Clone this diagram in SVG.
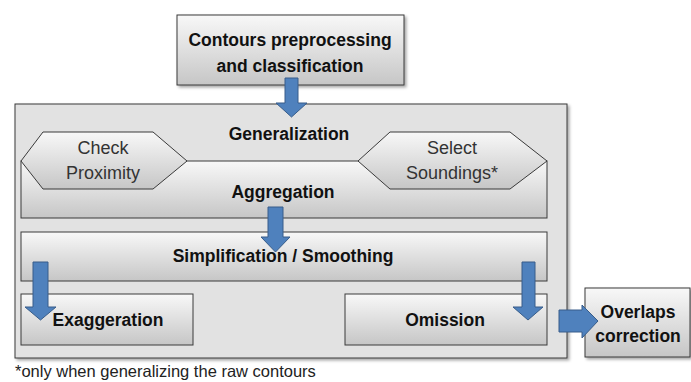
<svg xmlns="http://www.w3.org/2000/svg" width="691" height="382" viewBox="0 0 691 382">
<style>
.box{stroke:#3a3a3a;stroke-width:1;fill:url(#g)}
.t{font-family:"Liberation Sans",Arial,sans-serif;font-weight:bold;font-size:17.5px;fill:#111;text-anchor:middle}
.n{font-family:"Liberation Sans",Arial,sans-serif;font-size:18px;fill:#333;text-anchor:middle}
.arr{fill:#4F81BD;stroke:#385D8A;stroke-width:1}
</style>
<defs>
<linearGradient id="g" x1="0" y1="0" x2="0" y2="1">
<stop offset="0" stop-color="#f8f8f8"/>
<stop offset="1" stop-color="#c6c6c6"/>
</linearGradient>
<filter id="sh" x="-5%" y="-5%" width="110%" height="115%">
<feDropShadow dx="2" dy="2" stdDeviation="1.5" flood-color="#000" flood-opacity="0.35"/>
</filter>
</defs>
<rect width="691" height="382" fill="#fff"/>
<g id="top">
<rect class="box" x="177" y="15" width="227" height="70" filter="url(#sh)"/>
<text class="t" x="290" y="46">Contours preprocessing</text>
<text class="t" x="290" y="72">and classification</text>
</g>
<g id="generalization">
<rect x="15" y="104" width="552" height="254" fill="#e2e2e2" stroke="#3a3a3a" filter="url(#sh)"/>
<text class="t" x="289" y="140">Generalization</text>
</g>
<g id="aggregation">
<rect class="box" x="21" y="161" width="526" height="57"/>
<text class="t" x="283" y="198">Aggregation</text>
</g>
<g id="check">
<polygon class="box" points="21,161 43,132 153,132 187,161 153,189 43,189"/>
<text class="n" x="103" y="154">Check</text>
<text class="n" x="103" y="179">Proximity</text>
</g>
<g id="select">
<polygon class="box" points="358,161 390,132 510,132 547,161 510,189 390,189"/>
<text class="n" x="452" y="154">Select</text>
<text class="n" x="452" y="179">Soundings*</text>
</g>
<g id="simplification">
<rect class="box" x="21" y="232" width="526" height="49"/>
<text class="t" x="283" y="262">Simplification / Smoothing</text>
</g>
<g id="exaggeration">
<rect class="box" x="21" y="294" width="172" height="51"/>
<text class="t" x="108" y="326">Exaggeration</text>
</g>
<g id="omission">
<rect class="box" x="345" y="294" width="202" height="51"/>
<text class="t" x="445" y="326">Omission</text>
</g>
<g id="overlaps">
<rect class="box" x="585" y="288" width="105" height="69" filter="url(#sh)"/>
<text class="t" x="638" y="318">Overlaps</text>
<text class="t" x="638" y="342">correction</text>
</g>
<g id="connectors">
<polygon class="arr" points="285,78 298,78 298,103 307,103 291.5,117 276,103 285,103"/>
<polygon class="arr" points="268,207 283,207 283,237 290,237 275.5,252 261,237 268,237"/>
<polygon class="arr" points="33,262 48,262 48,307 56,307 40.5,320 25,307 33,307"/>
<polygon class="arr" points="522,262 535,262 535,307 543,307 528,320 513,307 522,307"/>
<polygon class="arr" points="559,310 582,310 582,305 598,321 582,338 582,332 559,332"/>
</g>
<text x="15" y="377" font-family="'Liberation Sans',Arial,sans-serif" font-size="16.5" fill="#222">*only when generalizing the raw contours</text>
</svg>
